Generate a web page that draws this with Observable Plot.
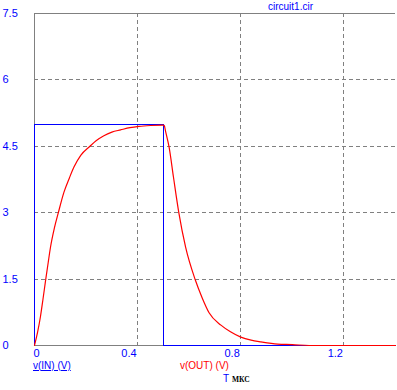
<!DOCTYPE html>
<html>
<head>
<meta charset="utf-8">
<script src="https://cdn.jsdelivr.net/npm/d3@7"></script>
<script src="https://cdn.jsdelivr.net/npm/@observablehq/plot@0.6"></script>
<style>
  html, body { margin: 0; padding: 0; background: #fff; }
  #wrap { position: relative; width: 397px; height: 390px; font-family: "Liberation Sans", Arial, sans-serif; }
  .lbl { position: absolute; white-space: nowrap; line-height: 1; }
</style>
</head>
<body>
<div id="wrap"></div>
<script>
// Input voltage v(IN)
const inT = [0, 0, 0.5, 0.5, 1.4];
const inV = [0, 5, 5, 0, 0];

// Output voltage v(OUT)
const outT = [0, 0.012, 0.023, 0.033, 0.043, 0.053, 0.062, 0.077, 0.092, 0.114, 0.135, 0.153, 0.18, 0.215, 0.24, 0.269, 0.3, 0.334, 0.37, 0.405, 0.45, 0.5,
              0.503, 0.509, 0.522, 0.539, 0.56, 0.586, 0.623, 0.65, 0.677, 0.723, 0.76, 0.8, 0.84, 0.878, 0.943, 1.0, 1.065, 1.4];
const outV = [0, 0.3, 0.65, 1.05, 1.47, 1.87, 2.22, 2.65, 2.99, 3.46, 3.78, 4.03, 4.3, 4.5, 4.63, 4.74, 4.82, 4.87, 4.92, 4.95, 4.97, 4.98,
              4.97, 4.82, 4.48, 3.8, 2.99, 2.22, 1.49, 1.08, 0.74, 0.46, 0.31, 0.19, 0.12, 0.08, 0.03, 0.02, 0, 0];

const xTicks = [0.4, 0.8, 1.2];
const yTicks = [0, 1.5, 3, 4.5, 6, 7.5];
const xGrid = [0.4, 0.8, 1.2];
const yGrid = [1.5, 3, 4.5, 6];

const title = "circuit1.cir";
const inLabel = "v(IN) (V)";
const outLabel = "v(OUT) (V)";
const xLabel = "T";
const xUnit = "МКС";

const inData = inT.map((t, i) => ({t, v: inV[i]}));
const outData = outT.map((t, i) => ({t, v: outV[i]}));

const blue = "#0000ff", red = "#ff0000", gray = "#808080";

const chart = Plot.plot({
  width: 397,
  height: 390,
  marginTop: 13,
  marginLeft: 34,
  marginRight: 2,
  marginBottom: 45,
  style: {fontFamily: "'Liberation Sans', Arial, sans-serif", background: "#fff", overflow: "visible"},
  x: {domain: [0, 1.4], axis: null},
  y: {domain: [0, 7.5], axis: null},
  marks: [
    Plot.ruleX(xGrid, {stroke: gray, strokeDasharray: "4,3", shapeRendering: "crispEdges"}),
    Plot.ruleY(yGrid, {stroke: gray, strokeDasharray: "4,3", shapeRendering: "crispEdges"}),
    Plot.ruleY([0, 7.5], {stroke: gray, shapeRendering: "crispEdges"}),
    Plot.ruleX([0], {stroke: gray, shapeRendering: "crispEdges"}),
    Plot.line(inData, {x: "t", y: "v", stroke: blue, strokeWidth: 1, shapeRendering: "crispEdges"}),
    Plot.line(outData, {x: "t", y: "v", stroke: red, strokeWidth: 1.2, curve: "monotone-x"}),
    Plot.axisY(yTicks, {label: null, tickSize: 0, textAnchor: "start", dx: -23, fill: blue, fontSize: 11, tickFormat: d => String(d)}),
    Plot.axisX(xTicks, {label: null, tickSize: 0, textAnchor: "end", dx: -1, dy: -5, fill: blue, fontSize: 11, tickFormat: d => String(d)}),
    Plot.axisX([0], {label: null, tickSize: 0, textAnchor: "start", dx: -1, dy: -5, fill: blue, fontSize: 11, tickFormat: d => String(d)})
  ]
});

const wrap = document.getElementById("wrap");
wrap.appendChild(chart);

function addLabel(text, left, baseline, size, color, extra) {
  const s = document.createElement("div");
  s.className = "lbl";
  s.textContent = text;
  s.style.left = left + "px";
  s.style.top = (baseline - 0.85 * size) + "px";
  s.style.fontSize = size + "px";
  s.style.color = color;
  if (extra) Object.assign(s.style, extra);
  wrap.appendChild(s);
}
addLabel(title, 268, 10, 10, blue);
addLabel(inLabel, 33, 369, 10, blue, {textDecoration: "underline"});
addLabel(outLabel, 180, 369, 10, red);
addLabel(xLabel, 223, 382, 10, blue);
addLabel(xUnit, 232, 382, 7.5, "#000", {fontFamily: "'Liberation Serif', serif", fontWeight: "bold"});
</script>
</body>
</html>
